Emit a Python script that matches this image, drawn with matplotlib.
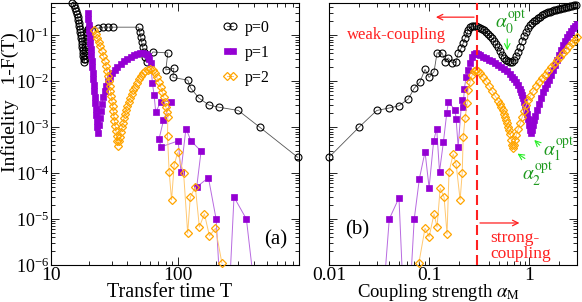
import numpy as np
import matplotlib
matplotlib.use("Agg")
import matplotlib.pyplot as plt
from matplotlib.ticker import LogLocator, NullFormatter, FixedLocator, FixedFormatter

plt.rcParams.update({
    "font.family": "serif", "font.serif": ["Liberation Serif", "DejaVu Serif"],
    "mathtext.fontset": "stix",
    "xtick.direction": "in", "ytick.direction": "in",
    "xtick.top": True, "ytick.right": True,
    "xtick.major.size": 6, "ytick.major.size": 6,
    "xtick.minor.size": 3, "ytick.minor.size": 3,
    "xtick.major.width": 0.6, "ytick.major.width": 0.6,
    "xtick.minor.width": 0.6, "ytick.minor.width": 0.6,
    "axes.linewidth": 0.8,
})

C0, C1, C2 = "black", "#9400d3", "#ffa500"
L0, L1, L2 = "#555555", "#b86ae0", "#ffc870"
RED, GREEN_T, GREEN_A = "#ff2020", "#1f9a1f", "#22ee22"

# ---- panel (a): infidelity vs transfer time T ----
left_p0 = [
    (14.68, 0.497), (15.09, 0.449), (15.50, 0.386), (15.79, 0.333), (16.08, 0.286),
    (16.23, 0.246), (16.38, 0.212), (16.53, 0.182), (16.68, 0.157), (16.84, 0.135),
    (16.99, 0.116), (17.15, 0.100), (17.30, 0.0861), (17.46, 0.0741), (17.62, 0.0637),
    (17.62, 0.0548), (17.78, 0.0472), (17.95, 0.0406), (17.95, 0.0349), (18.11, 0.0301),
    (18.28, 0.0259), (18.45, 0.0301), (18.45, 0.0367), (18.62, 0.0449), (18.62, 0.0548),
    (18.79, 0.067), (18.96, 0.0818), (19.13, 0.100), (19.31, 0.116), (19.66, 0.135),
    (20.03, 0.142), (23.6, 0.142), (25.8, 0.149), (28.3, 0.149), (31.0, 0.149),
    (49.0, 0.149), (49.9, 0.116), (50.9, 0.090), (51.8, 0.070), (52.7, 0.055),
    (53.7, 0.043), (54.6, 0.033), (56.7, 0.026), (63.4, 0.043), (83.3, 0.041),
    (80.3, 0.0175), (92.9, 0.019), (91.3, 0.012), (119.6, 0.0105), (126, 0.0071),
    (146, 0.0043), (176, 0.0030), (211, 0.0027), (299, 0.0023), (440, 0.0010),
    (880, 2.2e-4),
]
left_p1 = [
    (19.5, 0.301), (19.7, 0.223), (19.9, 0.165), (20.0, 0.122), (20.2, 0.0905),
    (20.4, 0.067), (20.6, 0.0496), (20.8, 0.0367), (21.0, 0.0272), (21.2, 0.0202),
    (21.3, 0.0149), (21.5, 0.0110), (21.7, 8.2e-3), (21.9, 6.1e-3), (22.1, 4.5e-3),
    (22.3, 3.3e-3), (22.5, 2.46e-3), (22.7, 1.82e-3), (22.9, 1.35e-3), (23.1, 1.0e-3),
    (23.3, 7.4e-4), (23.8, 1.10e-3), (24.3, 1.57e-3), (24.7, 2.23e-3), (25.2, 3.16e-3),
    (25.9, 4.5e-3), (26.6, 6.1e-3), (27.3, 7.8e-3), (28.3, 0.0100), (29.4, 0.0122),
    (30.5, 0.0149), (31.9, 0.0173), (33.4, 0.0202), (35.3, 0.0234), (37.3, 0.0272),
    (39.7, 0.0301), (42.4, 0.0332), (44.8, 0.0367), (47.3, 0.0396), (49.9, 0.0417),
    (52.8, 0.0417), (55.7, 0.0386), (57.8, 0.0349), (59.4, 0.0301), (61.1, 0.0246),
    (63.0, 8.9e-3), (64.9, 5.0e-3), (66.9, 2.1e-3), (73.3, 3.6e-3), (88.0, 3.6e-3),
    (77.0, 1.4e-3), (71.1, 5.6e-4), (73.3, 3.7e-4), (100.5, 5.0e-4), (105.6, 1.07e-4),
    (115.7, 9.3e-4), (126.8, 5.0e-4), (152.3, 3.0e-4), (140.7, 5.0e-5), (174, 7.9e-5),
    (200, 1.0e-5), (220, 1e-7), (250, 1e-7), (276.7, 3.0e-5), (346.5, 1.0e-5),
    (420, 1e-7),
]
left_p2 = [
    (21.9, 0.128), (22.6, 0.105), (23.2, 0.0861), (23.8, 0.0705), (24.5, 0.0577),
    (25.2, 0.0449), (25.9, 0.0349), (26.6, 0.0272), (27.1, 0.0212), (27.6, 0.0165),
    (28.1, 0.0128), (28.6, 0.0100), (29.0, 7.8e-3), (29.4, 6.1e-3), (29.8, 4.7e-3),
    (30.2, 3.7e-3), (30.6, 2.86e-3), (30.9, 2.23e-3), (31.3, 1.73e-3), (31.6, 1.35e-3),
    (32.1, 1.05e-3), (32.5, 8.2e-4), (32.9, 6.4e-4), (33.3, 5.0e-4), (33.7, 3.9e-4),
    (34.3, 5.0e-4), (35.0, 6.1e-4), (35.6, 7.8e-4), (36.3, 1.0e-3), (37.0, 1.22e-3),
    (37.6, 1.57e-3), (38.3, 1.92e-3), (39.0, 2.34e-3), (39.8, 2.86e-3), (40.9, 3.49e-3),
    (42.0, 4.27e-3), (43.2, 5.2e-3), (44.4, 6.4e-3), (45.6, 7.4e-3), (47.3, 9.1e-3),
    (49.0, 0.0110), (50.9, 0.0128), (52.7, 0.0149), (55.2, 0.0165), (57.8, 0.0178),
    (60.5, 0.0182), (63.3, 0.0173), (65.7, 0.0149), (68.1, 0.0122), (70.7, 9.5e-3),
    (73.3, 7.4e-3), (75.3, 5.8e-3), (77.4, 4.5e-3), (78.9, 3.49e-3), (80.3, 2.72e-3),
    (81.8, 2.12e-3), (83.3, 1.65e-3), (82.8, 6.3e-4), (85.3, 1.07e-4), (89.1, 2.6e-5),
    (93.5, 1.5e-4), (99.5, 2.8e-4), (110.9, 1.0e-4), (119.4, 4.9e-6), (125.2, 3.0e-5),
    (137.2, 5.0e-5), (147.6, 6.7e-6), (161.7, 1.3e-5), (177.2, 4.3e-6), (197.7, 6.3e-6),
    (222.2, 1.1e-6),
]

# ---- panel (b): infidelity vs coupling strength alpha_M ----
right_p0 = [
    (0.010, 2.2e-4), (0.020, 1.0e-3), (0.030, 2.3e-3), (0.040, 2.6e-3), (0.050, 2.9e-3),
    (0.062, 4.1e-3), (0.071, 7.0e-3), (0.081, 9.6e-3), (0.091, 0.018), (0.100, 0.012),
    (0.112, 0.016), (0.120, 0.041), (0.135, 0.041), (0.145, 0.026), (0.155, 0.032),
    (0.170, 0.025), (0.186, 0.026), (0.195, 0.041), (0.209, 0.052), (0.219, 0.067),
    (0.229, 0.086), (0.240, 0.11), (0.245, 0.129), (0.257, 0.149), (0.269, 0.157),
    (0.282, 0.157), (0.295, 0.157), (0.309, 0.149), (0.324, 0.142), (0.339, 0.135),
    (0.355, 0.128), (0.372, 0.116), (0.389, 0.105), (0.407, 0.095), (0.427, 0.086),
    (0.447, 0.074), (0.468, 0.064), (0.490, 0.055), (0.513, 0.045), (0.537, 0.037),
    (0.562, 0.032), (0.589, 0.029), (0.617, 0.027), (0.646, 0.026), (0.676, 0.026),
    (0.708, 0.029), (0.741, 0.035), (0.776, 0.043), (0.813, 0.055), (0.851, 0.074),
    (0.891, 0.095), (0.933, 0.116), (0.977, 0.142), (1.023, 0.165), (1.072, 0.182),
    (1.122, 0.201), (1.175, 0.217), (1.230, 0.234), (1.288, 0.253), (1.349, 0.272),
    (1.413, 0.286), (1.479, 0.301), (1.549, 0.316), (1.622, 0.324), (1.698, 0.341),
    (1.778, 0.349), (1.862, 0.358), (1.950, 0.367), (2.042, 0.376), (2.138, 0.386),
    (2.239, 0.396), (2.344, 0.406), (2.455, 0.417), (2.570, 0.427), (2.692, 0.438),
    (2.818, 0.449), (2.951, 0.460),
]
right_p1 = [
    (0.034, 1e-7), (0.040, 1.0e-5), (0.050, 2.9e-5), (0.056, 1e-7), (0.063, 1e-7),
    (0.071, 1.0e-5), (0.080, 7.6e-5), (0.091, 2.9e-4), (0.100, 4.8e-5), (0.111, 5.0e-4),
    (0.119, 9.3e-4), (0.127, 1.07e-4), (0.139, 4.8e-4), (0.150, 2.0e-3), (0.156, 3.6e-3),
    (0.182, 2.3e-3), (0.186, 1.5e-3), (0.195, 3.7e-4), (0.212, 3.9e-3), (0.219, 2.8e-3),
    (0.225, 6.9e-3), (0.234, 0.0122), (0.245, 0.0173), (0.257, 0.0246), (0.269, 0.0332),
    (0.282, 0.0386), (0.295, 0.0406), (0.309, 0.0386), (0.324, 0.0367), (0.347, 0.0332),
    (0.372, 0.0316), (0.398, 0.0286), (0.427, 0.0272), (0.457, 0.0246), (0.490, 0.0223),
    (0.525, 0.0202), (0.562, 0.0182), (0.603, 0.0165), (0.646, 0.0142), (0.676, 0.0122),
    (0.708, 0.0110), (0.741, 0.0095), (0.776, 0.0082), (0.813, 0.0067), (0.832, 0.0058),
    (0.851, 0.0050), (0.871, 0.0043), (0.891, 0.0035), (0.912, 0.0029), (0.933, 0.0023),
    (0.955, 0.0019), (0.977, 0.0015), (1.000, 0.0011), (1.023, 8.6e-4), (1.047, 7.4e-4),
    (1.072, 8.6e-4), (1.096, 0.0011), (1.122, 0.0014), (1.148, 0.0017), (1.202, 0.0023),
    (1.259, 0.0032), (1.318, 0.0043), (1.380, 0.0058), (1.445, 0.0070), (1.514, 0.0086),
    (1.585, 0.0105), (1.660, 0.0135), (1.738, 0.0173), (1.820, 0.0223), (1.905, 0.0286),
    (1.995, 0.0367), (2.089, 0.0472), (2.188, 0.0607), (2.291, 0.0741), (2.399, 0.0905),
    (2.512, 0.105), (2.630, 0.122), (2.754, 0.142), (2.884, 0.157), (2.99, 0.173),
]
right_p2 = [
    (0.079, 1.1e-6), (0.091, 6.3e-6), (0.100, 4.1e-6), (0.112, 1.3e-5), (0.120, 6.7e-6),
    (0.129, 4.7e-5), (0.141, 3.0e-5), (0.151, 4.7e-6), (0.158, 1.05e-4), (0.174, 2.6e-4),
    (0.186, 1.58e-4), (0.204, 2.6e-5), (0.214, 1.0e-4), (0.219, 6.0e-4), (0.229, 1.6e-3),
    (0.240, 3.3e-3), (0.245, 6.3e-3), (0.257, 9.5e-3), (0.269, 0.0135), (0.282, 0.0165),
    (0.295, 0.0173), (0.309, 0.0165), (0.324, 0.0149), (0.347, 0.0122), (0.372, 0.0100),
    (0.398, 0.0078), (0.427, 0.0061), (0.457, 0.0047), (0.490, 0.0037), (0.507, 0.0032),
    (0.525, 0.00272), (0.543, 0.0023), (0.562, 0.00192), (0.575, 0.00165), (0.589, 0.00142),
    (0.603, 0.0012), (0.617, 0.0010), (0.631, 8.5e-4), (0.646, 7.0e-4), (0.661, 5.2e-4),
    (0.676, 4.1e-4), (0.692, 3.5e-4), (0.708, 4.1e-4), (0.724, 5.2e-4), (0.741, 6.7e-4),
    (0.776, 9.1e-4), (0.813, 0.00122), (0.851, 0.00165), (0.891, 0.00223), (0.933, 0.0030),
    (0.977, 0.00386), (1.023, 0.0047), (1.096, 0.0061), (1.175, 0.0078), (1.259, 0.0095),
    (1.349, 0.0116), (1.445, 0.0135), (1.549, 0.0165), (1.660, 0.0202), (1.778, 0.0234),
    (1.905, 0.0286), (2.042, 0.0332), (2.188, 0.0406), (2.344, 0.0472), (2.512, 0.0577),
    (2.692, 0.067), (2.884, 0.0778), (2.99, 0.0905),
]

LABELS = ["p=0", "p=1", "p=2"]
T_LIM = (10, 900)
A_LIM = (0.01, 3.0)
I_LIM = (1e-6, 0.5)
ALPHA_SPLIT = 0.3


def draw_series(ax, data, labels):
    p0, p1, p2 = [np.array(d).T for d in data]
    ax.plot(p0[0], p0[1], "-", color=L0, lw=0.6, marker="o", ms=5, mfc="none",
            mec=C0, mew=0.8, label=labels[0], clip_on=False, zorder=3)
    ax.plot(p1[0], p1[1], "-", color=L1, lw=0.7, marker="s", ms=4.6, mfc=C1,
            mec=C1, mew=0.5, label=labels[1], zorder=4)
    ax.plot(p2[0], p2[1], "-", color=L2, lw=0.7, marker="D", ms=4.0, mfc="none",
            mec=C2, mew=0.9, label=labels[2], clip_on=False, zorder=5)


def style_axis(ax, xlim, xticks, xticklabels, show_ylabels):
    ax.set_xscale("log")
    ax.set_yscale("log")
    ax.set_xlim(*xlim)
    ax.set_ylim(*I_LIM)
    ax.xaxis.set_major_locator(FixedLocator(xticks))
    ax.xaxis.set_major_formatter(FixedFormatter(xticklabels))
    ax.xaxis.set_minor_locator(LogLocator(base=10, subs=np.arange(2, 10), numticks=20))
    ax.xaxis.set_minor_formatter(NullFormatter())
    ax.yaxis.set_major_locator(LogLocator(base=10, numticks=20))
    ax.yaxis.set_minor_locator(LogLocator(base=10, subs=np.arange(2, 10), numticks=20))
    ax.yaxis.set_minor_formatter(NullFormatter())
    ax.tick_params(axis="x", which="both", labelsize=14, pad=1.5)
    ax.tick_params(axis="y", which="both", labelsize=13, pad=1.5, labelleft=show_ylabels)


fig = plt.figure(figsize=(5.82, 3.02), dpi=100)
ax1 = fig.add_axes([51 / 582, 37 / 302, 248 / 582, 262 / 302])
ax2 = fig.add_axes([329 / 582, 37 / 302, 248 / 582, 262 / 302])

# panel (a)
draw_series(ax1, [left_p0, left_p1, left_p2], LABELS)
style_axis(ax1, T_LIM, [10, 100], ["10", "100"], True)
ax1.set_xlabel("Transfer time T", fontsize=14.5)
ax1.xaxis.set_label_coords(0.48, -0.068)
ax1.set_ylabel("Infidelity   1-F(T)", fontsize=14)
ax1.yaxis.set_label_coords(-0.13, 0.62)
ax1.legend(loc="upper left", bbox_to_anchor=(0.69, 0.935), frameon=False, numpoints=2,
           fontsize=11.5, handlelength=1.0, handletextpad=0.45, labelspacing=0.55,
           borderpad=0, borderaxespad=0)
ax1.text(0.907, 0.095, "(a)", transform=ax1.transAxes, fontsize=15, ha="center", va="center")

# panel (b)
draw_series(ax2, [right_p0, right_p1, right_p2], LABELS)
style_axis(ax2, A_LIM, [0.01, 0.1, 1], ["0.01", "0.1", "1"], False)
ax2.set_xlabel(r"Coupling strength $\alpha_{\rm M}$", fontsize=13.5)
ax2.xaxis.set_label_coords(0.44, -0.066)
ax2.axvline(ALPHA_SPLIT, color=RED, lw=1.5, dashes=(4.8, 2.4), zorder=6)
ax2.text(0.0468, 0.1, "weak-coupling", color=RED, fontsize=12, ha="center", va="center")
ax2.annotate("", xy=(0.1096, 0.246), xytext=(ALPHA_SPLIT, 0.246),
             arrowprops=dict(arrowstyle="->", color=RED, lw=0.9))
ax2.text(0.407, 3.86e-6, "strong-", color=RED, fontsize=12.5, ha="left", va="center")
ax2.text(0.407, 1.73e-6, "coupling", color=RED, fontsize=12.5, ha="left", va="center")
ax2.annotate("", xy=(0.851, 8.2e-6), xytext=(0.302, 8.2e-6),
             arrowprops=dict(arrowstyle="->", color=RED, lw=0.9))

ax2.text(0.457, 0.142, r"$\alpha_0^{\rm opt}$", color=GREEN_T, fontsize=14, ha="left", va="baseline")
ax2.annotate("", xy=(0.603, 0.0406), xytext=(0.603, 0.095),
             arrowprops=dict(arrowstyle="->", color=GREEN_A, lw=0.8))
ax2.text(1.36, 2.34e-4, r"$\alpha_1^{\rm opt}$", color=GREEN_T, fontsize=14, ha="left", va="baseline")
ax2.annotate("", xy=(1.072, 5.77e-4), xytext=(1.33, 3.67e-4),
             arrowprops=dict(arrowstyle="->", color=GREEN_A, lw=0.8))
ax2.text(0.851, 7.05e-5, r"$\alpha_2^{\rm opt}$", color=GREEN_T, fontsize=14, ha="left", va="baseline")
ax2.annotate("", xy=(0.724, 2.86e-4), xytext=(0.955, 1.92e-4),
             arrowprops=dict(arrowstyle="->", color=GREEN_A, lw=0.8))
ax2.text(0.113, 0.134, "(b)", transform=ax2.transAxes, fontsize=15, ha="center", va="center")

fig.savefig("out.png", dpi=100)
